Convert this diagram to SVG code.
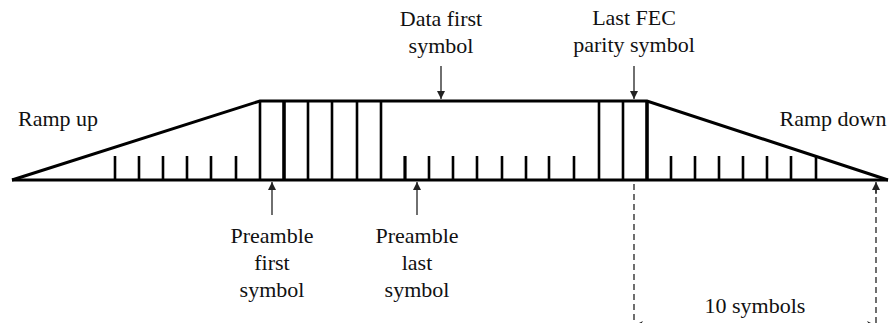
<svg xmlns="http://www.w3.org/2000/svg" width="890" height="323" viewBox="0 0 890 323">
<style>
.t{font-family:'Liberation Serif',Tinos,'Times New Roman',Times,'DejaVu Serif','Noto Serif',serif;font-size:22px;fill:#111;text-anchor:middle}
.m{stroke:#000;stroke-width:3;fill:none;stroke-linejoin:miter}
.tk{stroke:#000;stroke-width:2.6}
.ar{stroke:#222;stroke-width:1.3;fill:none}
.da{stroke:#222;stroke-width:1.3;stroke-dasharray:6,4;fill:none}
</style>
<defs>
<marker id="ah" viewBox="0 0 10 10" refX="10" refY="5" markerWidth="8" markerHeight="8" markerUnits="userSpaceOnUse" orient="auto">
<path d="M0,0 L10,5 L0,10 Z" fill="#222"/>
</marker>
<marker id="ah2" viewBox="0 0 10 10" refX="10" refY="5" markerWidth="9" markerHeight="9" markerUnits="userSpaceOnUse" orient="auto">
<path d="M0,0 L10,5 L0,10 L3,5 Z" fill="#222"/>
</marker>
</defs>
<g id="frame">
<path class="m" d="M12,180 L888,180"/>
<path class="m" d="M12,180 L260,101 L647,101 L888,180"/>
</g>
<g id="ramp-up-ticks">
<path class="tk" d="M115,180V156 M139,180V156 M163,180V156 M187,180V156 M211,180V156 M236,180V156"/>
</g>
<g id="preamble-lines">
<path class="tk" d="M260,180V101 M308,180V101 M332,180V101 M357,180V101 M381,180V101"/>
<path stroke="#000" stroke-width="3.6" d="M284,180V101"/>
</g>
<g id="data-ticks">
<path stroke="#000" stroke-width="3.2" d="M405,180V156"/>
<path class="tk" d="M429,180V156 M453,180V156 M477,180V156 M502,180V156 M526,180V156 M549,180V156 M574,180V156"/>
</g>
<g id="fec-lines">
<path class="tk" d="M599,180V101 M623,180V101"/>
<path stroke="#000" stroke-width="3.6" d="M647,180V101"/>
</g>
<g id="ramp-down-ticks">
<path class="tk" d="M671,180V156 M695,180V156 M719,180V156 M743,180V156 M767,180V156 M791,180V156 M816,180V156"/>
</g>
<g id="connectors">
<path class="ar" d="M441,66V99" marker-end="url(#ah)"/>
<path class="ar" d="M634,66V99" marker-end="url(#ah)"/>
<path class="ar" d="M272,215V182" marker-end="url(#ah)"/>
<path class="ar" d="M417,215V182" marker-end="url(#ah)"/>
<path class="da" d="M634,184V323"/>
<path class="da" d="M876,323V190"/>
<path class="ar" d="M876,194V182" marker-end="url(#ah)"/>
<path stroke="none" fill="none" d="M660,325.5H634" marker-end="url(#ah2)"/>
<path stroke="none" fill="none" d="M850,325.5H876" marker-end="url(#ah2)"/>
</g>
<g id="labels" font-family="'Liberation Serif', serif">
<text class="t" x="58" y="126">Ramp up</text>
<text class="t" x="833" y="126">Ramp down</text>
<text class="t" x="441" y="26">Data first</text>
<text class="t" x="441" y="53">symbol</text>
<text class="t" x="634" y="25">Last FEC</text>
<text class="t" x="634" y="52">parity symbol</text>
<text class="t" x="272" y="243">Preamble</text>
<text class="t" x="272" y="270">first</text>
<text class="t" x="272" y="297">symbol</text>
<text class="t" x="417" y="243">Preamble</text>
<text class="t" x="417" y="270">last</text>
<text class="t" x="417" y="297">symbol</text>
<text class="t" x="755" y="313">10 symbols</text>
</g>
</svg>
